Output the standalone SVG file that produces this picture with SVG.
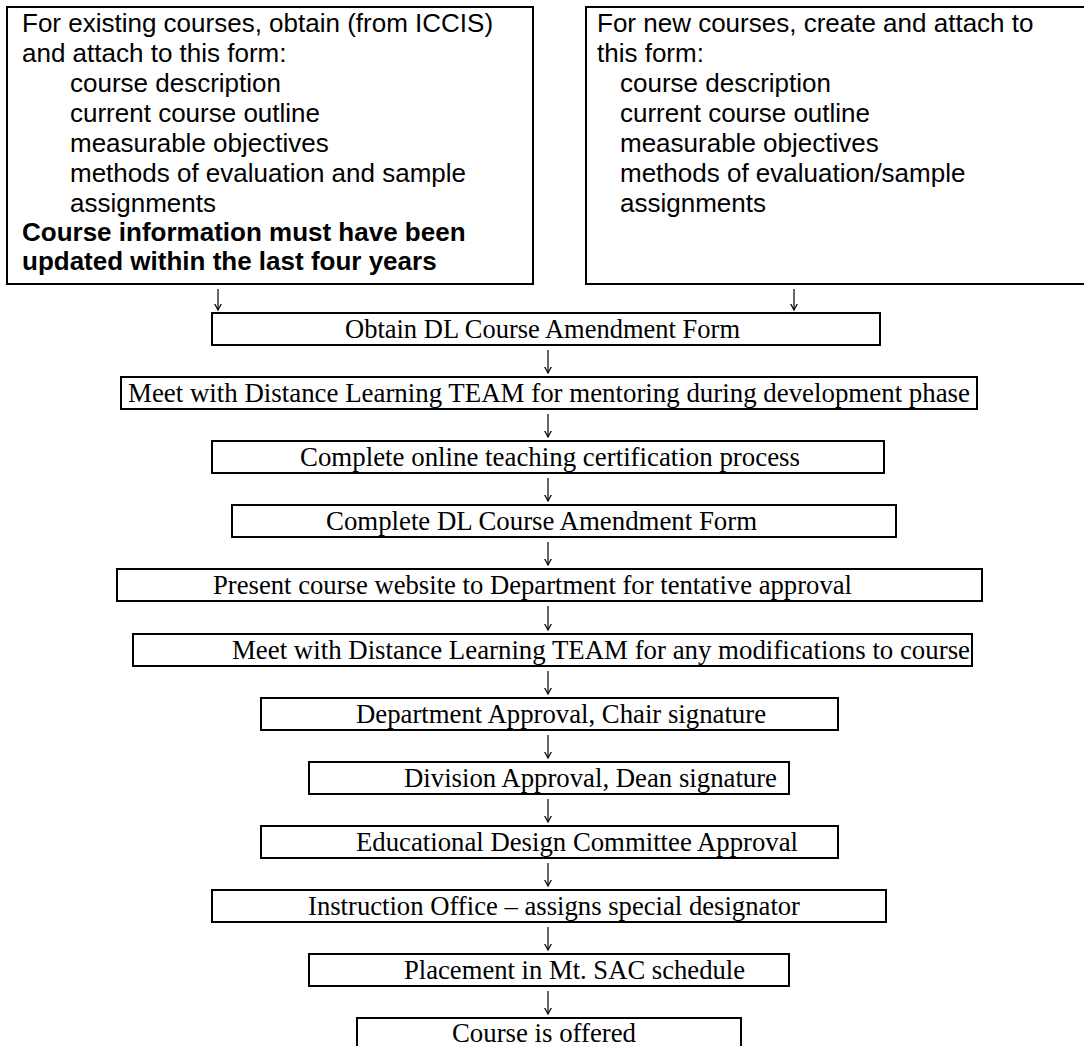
<svg xmlns="http://www.w3.org/2000/svg" width="1084" height="1046" viewBox="0 0 1084 1046">
<defs>
<style>
.box{fill:#fff;stroke:#000;stroke-width:2}
.sans{font-family:"Liberation Sans",Arial,sans-serif;font-size:26px;fill:#000}
.b{font-weight:bold}
.serif{font-family:"Liberation Serif","Times New Roman",serif;font-size:28px;fill:#000}
.arr{fill:none;stroke:#000;stroke-width:1.2}
</style>
<marker id="ah" markerWidth="10" markerHeight="10" refX="6.5" refY="3.5" orient="auto" markerUnits="userSpaceOnUse" viewBox="0 0 10 10">
<path d="M0,0 L6.5,3.5 L0,7" fill="none" stroke="#000" stroke-width="1.2"/>
</marker>
</defs>
<rect width="1084" height="1046" fill="#fff"/>
<g id="existing">
<rect class="box" x="7" y="7" width="526" height="277"/>
<text class="sans" x="22" y="32">For existing courses, obtain (from ICCIS)</text>
<text class="sans" x="22" y="62">and attach to this form:</text>
<text class="sans" x="70" y="92">course description</text>
<text class="sans" x="70" y="122">current course outline</text>
<text class="sans" x="70" y="152">measurable objectives</text>
<text class="sans" x="70" y="182">methods of evaluation and sample</text>
<text class="sans" x="70" y="212">assignments</text>
<text class="sans b" x="22" y="241">Course information must have been</text>
<text class="sans b" x="22" y="270">updated within the last four years</text>
</g>
<g id="new">
<rect class="box" x="586" y="7" width="510" height="277"/>
<text class="sans" x="597" y="32">For new courses, create and attach to</text>
<text class="sans" x="597" y="62">this form:</text>
<text class="sans" x="620" y="92">course description</text>
<text class="sans" x="620" y="122">current course outline</text>
<text class="sans" x="620" y="152">measurable objectives</text>
<text class="sans" x="620" y="182">methods of evaluation/sample</text>
<text class="sans" x="620" y="212">assignments</text>
</g>
<g id="s1"><rect class="box" x="212" y="313" width="668" height="32"/><text class="serif" x="345" y="338" textLength="395" lengthAdjust="spacingAndGlyphs">Obtain DL Course Amendment Form</text></g>
<g id="s2"><rect class="box" x="121" y="377" width="856" height="32"/><text class="serif" x="128" y="402" textLength="842" lengthAdjust="spacingAndGlyphs">Meet with Distance Learning TEAM for mentoring during development phase</text></g>
<g id="s3"><rect class="box" x="212" y="441" width="672" height="32"/><text class="serif" x="300" y="466" textLength="500" lengthAdjust="spacingAndGlyphs">Complete online teaching certification process</text></g>
<g id="s4"><rect class="box" x="232" y="505" width="664" height="32"/><text class="serif" x="326" y="530" textLength="431" lengthAdjust="spacingAndGlyphs">Complete DL Course Amendment Form</text></g>
<g id="s5"><rect class="box" x="117" y="569" width="865" height="32"/><text class="serif" x="213" y="594" textLength="639" lengthAdjust="spacingAndGlyphs">Present course website to Department for tentative approval</text></g>
<g id="s6"><rect class="box" x="133" y="634" width="839" height="32"/><text class="serif" x="232" y="659" textLength="738" lengthAdjust="spacingAndGlyphs">Meet with Distance Learning TEAM for any modifications to course</text></g>
<g id="s7"><rect class="box" x="261" y="698" width="577" height="32"/><text class="serif" x="356" y="723" textLength="410" lengthAdjust="spacingAndGlyphs">Department Approval, Chair signature</text></g>
<g id="s8"><rect class="box" x="309" y="762" width="480" height="32"/><text class="serif" x="404" y="787" textLength="373" lengthAdjust="spacingAndGlyphs">Division Approval, Dean signature</text></g>
<g id="s9"><rect class="box" x="261" y="826" width="577" height="32"/><text class="serif" x="356" y="851" textLength="442" lengthAdjust="spacingAndGlyphs">Educational Design Committee Approval</text></g>
<g id="s10"><rect class="box" x="212" y="890" width="674" height="32"/><text class="serif" x="308" y="915" textLength="492" lengthAdjust="spacingAndGlyphs">Instruction Office – assigns special designator</text></g>
<g id="s11"><rect class="box" x="309" y="954" width="480" height="32"/><text class="serif" x="404" y="979" textLength="341" lengthAdjust="spacingAndGlyphs">Placement in Mt. SAC schedule</text></g>
<g id="s12"><rect class="box" x="357" y="1018" width="384" height="32"/><text class="serif" x="452" y="1042" textLength="184" lengthAdjust="spacingAndGlyphs">Course is offered</text></g>
<g id="connectors" class="arr">
<line x1="218" y1="289" x2="218" y2="310" marker-end="url(#ah)"/>
<line x1="794" y1="289" x2="794" y2="310" marker-end="url(#ah)"/>
<line x1="548" y1="350" x2="548" y2="373" marker-end="url(#ah)"/>
<line x1="548" y1="414" x2="548" y2="437" marker-end="url(#ah)"/>
<line x1="548" y1="478" x2="548" y2="501" marker-end="url(#ah)"/>
<line x1="548" y1="542" x2="548" y2="565" marker-end="url(#ah)"/>
<line x1="548" y1="606" x2="548" y2="630" marker-end="url(#ah)"/>
<line x1="548" y1="671" x2="548" y2="694" marker-end="url(#ah)"/>
<line x1="548" y1="735" x2="548" y2="758" marker-end="url(#ah)"/>
<line x1="548" y1="799" x2="548" y2="822" marker-end="url(#ah)"/>
<line x1="548" y1="863" x2="548" y2="886" marker-end="url(#ah)"/>
<line x1="548" y1="927" x2="548" y2="950" marker-end="url(#ah)"/>
<line x1="548" y1="991" x2="548" y2="1014" marker-end="url(#ah)"/>
</g>
</svg>
